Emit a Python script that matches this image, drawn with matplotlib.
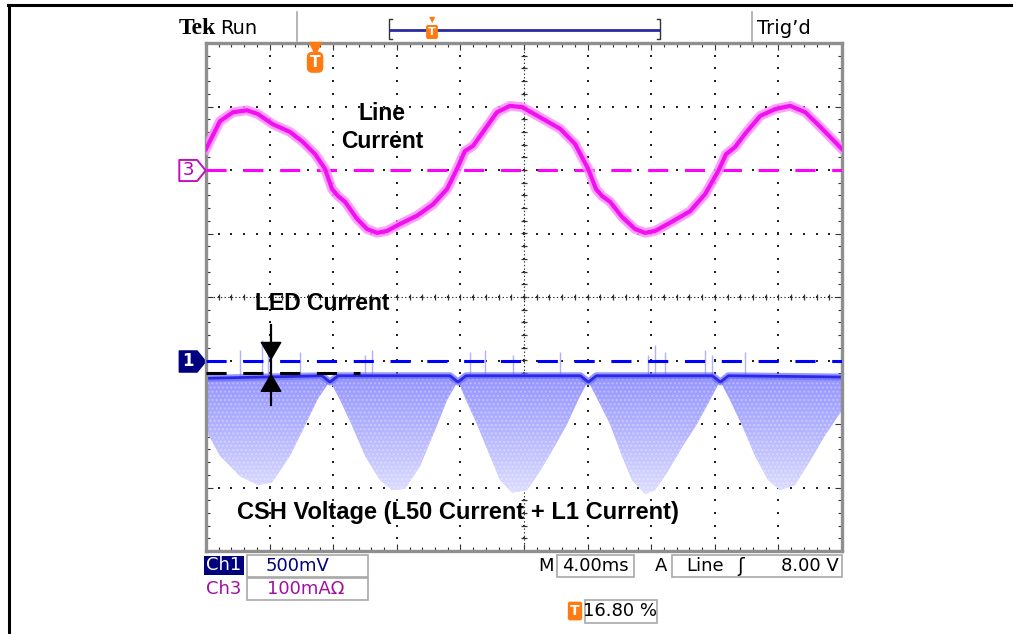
import numpy as np
import matplotlib
matplotlib.use("Agg")
import matplotlib.pyplot as plt
from matplotlib.path import Path
from matplotlib.colors import LinearSegmentedColormap
from matplotlib.lines import Line2D
from matplotlib.patches import Rectangle

plt.rcParams['lines.scale_dashes'] = False

W, H = 1013, 634

# ---- values ----
# time axis in ms (M 4.00ms / div, 10 div)
line_t = [0, 0.88, 1.70, 2.58, 3.27, 4.21, 5.28, 6.10, 6.86, 7.48, 7.93, 8.30, 8.74,
          9.50, 10.13, 10.76, 11.38, 12.20, 13.27, 14.28, 15.16, 15.79, 16.29, 16.80,
          17.42, 18.30, 19.12, 19.88, 21.01, 22.27, 23.21, 24.03, 24.53, 24.91, 25.41,
          26.17, 26.99, 27.61, 28.24, 29.19, 30.44, 31.39, 32.21, 32.71, 33.27, 33.90,
          34.85, 35.80, 36.74, 37.69, 38.63, 40.0]
# Ch3 line current, mA (100 mA/div)
line_ma = [33, 77, 91, 94, 88, 72, 60, 44, 25, 2, -30, -41, -50,
           -77, -93, -99, -96, -85, -72, -54, -30, 2, 30, 38,
           60, 91, 101, 99, 83, 65, 41, 2, -30, -41, -50,
           -74, -93, -99, -96, -83, -65, -38, -2, 25, 36, 57,
           85, 96, 101, 91, 68, 33]

# Ch1 CSH voltage, V (500 mV/div): dense upper band
csh_top_t = [0, 7.3, 7.8, 8.3, 15.35, 15.85, 16.35, 23.55, 24.05, 24.55,
             31.85, 32.35, 32.85, 40.0]
csh_top_v = [-0.14, -0.12, -0.17, -0.12, -0.12, -0.17, -0.12, -0.12, -0.17, -0.12,
             -0.12, -0.17, -0.12, -0.13]
# lower edge of the ripple cloud
csh_low_t = [0, 0.88, 2.14, 3.27, 4.15, 5.28, 6.23, 7.04, 7.8,
             8.43, 9.18, 10.0, 10.94, 11.70, 12.52, 13.46, 14.40, 15.16, 15.85,
             16.35, 17.04, 17.86, 18.49, 19.25, 20.19, 21.01, 21.95, 22.71, 23.40, 24.03,
             24.65, 25.41, 26.16, 26.79, 27.61, 28.24, 29.06, 30.0, 30.88, 31.70, 32.33,
             32.96, 33.71, 34.53, 35.35, 36.10, 37.04, 37.99, 38.93, 40.0]
csh_low_v = [-0.55, -0.75, -0.91, -0.98, -0.96, -0.75, -0.51, -0.30, -0.16,
             -0.31, -0.51, -0.75, -0.94, -1.02, -1.01, -0.83, -0.55, -0.31, -0.16,
             -0.31, -0.50, -0.75, -0.94, -1.04, -1.02, -0.87, -0.67, -0.50, -0.31, -0.16,
             -0.31, -0.50, -0.75, -0.94, -1.05, -1.02, -0.87, -0.67, -0.50, -0.31, -0.16,
             -0.31, -0.51, -0.75, -0.94, -1.02, -0.98, -0.79, -0.59, -0.39]
# short glitches above the band
spike_t = [2.14, 3.52, 3.90, 5.91, 10.0, 10.44, 16.61, 17.55, 19.31, 22.27,
           27.80, 28.24, 28.87, 31.39, 31.83, 33.90]
spike_v = [0.08, 0.16, 0.12, 0.07, 0.04, 0.08, 0.07, 0.08, 0.04, 0.07,
           0.04, 0.12, 0.07, 0.08, 0.04, 0.07]
band_v = -0.12
led_level_v = -0.10      # black dashed marker for LED current
led_arrow_t = 4.09

ch1_scale, ch3_scale = 0.5, 100    # per division
ch1_pos, ch3_pos = -1, 2           # ground markers, div from centre
trig_t = 6.86

MAG = '#ff00ff'
NAVY = '#00007f'
ORANGE = '#ff7a10'


def fx(x):
    return x / W


def fy(y):
    return 1 - y / H


fig = plt.figure(figsize=(W / 100, H / 100), dpi=100)
fig.patch.set_facecolor('white')

# outer frame (top and left only)
fig.add_artist(Line2D([fx(9), fx(9)], [0, fy(5)], color='black', lw=2.2, transform=fig.transFigure))
fig.add_artist(Line2D([fx(8), 1], [fy(5), fy(5)], color='black', lw=2.2, transform=fig.transFigure))

ax = fig.add_axes([fx(206), fy(551), 636 / W, 508 / H])
ax.set_xlim(0, 40)
ylo, yhi = (-4 - ch1_pos) * ch1_scale, (4 - ch1_pos) * ch1_scale
ax3 = ax.twinx()
ax3.set_ylim((-4 - ch3_pos) * ch3_scale, (4 - ch3_pos) * ch3_scale)
ax3.axis('off')

# ---- graticule ----
xmaj = np.arange(0, 40.01, 4)
ymaj = np.arange(ylo, yhi + 0.01, ch1_scale)
xmin = np.arange(0, 40.01, 0.8)
ymin = np.arange(ylo, yhi + 0.01, ch1_scale / 5)
xc, yc = 20, (ylo + yhi) / 2
for y in ymaj[1:-1]:
    ax.scatter(xmin, [y] * len(xmin), marker='s', s=1.5, color='#222222', lw=0, zorder=1)
for x in xmaj[1:-1]:
    ax.scatter([x] * len(ymin), ymin, marker='s', s=1.5, color='#222222', lw=0, zorder=1)
ax.axvline(xc, color='#333333', lw=0.8, dashes=(1, 1.6), zorder=1)
ax.axhline(yc, color='#333333', lw=0.8, dashes=(1, 1.6), zorder=1)
ax.plot([xc] * len(ymin), ymin, ls='none', marker='_', ms=5, mew=0.9, color='#333333', zorder=1)
ax.plot(xmin, [yc] * len(xmin), ls='none', marker='|', ms=5, mew=0.9, color='#333333', zorder=1)

ax.set_xticks(xmaj)
ax.set_xticks(xmin, minor=True)
ax.set_yticks(ymaj)
ax.set_yticks(ymin, minor=True)
ax.tick_params(which='both', direction='in', top=True, right=True, labelbottom=False,
               labelleft=False, color='#333333', width=0.8)
ax.tick_params(which='major', length=5)
ax.tick_params(which='minor', length=3)
for sp in ax.spines.values():
    sp.set_color('#8f8f8f')
    sp.set_linewidth(2.4)

# ---- Ch1 ripple cloud ----
poly_x = csh_top_t + csh_low_t[::-1]
poly_y = csh_top_v + csh_low_v[::-1]
cloud = ax.fill(poly_x, poly_y, color='#c8c8ff', lw=0, zorder=2)[0]
cmap = LinearSegmentedColormap.from_list('cloud', ['#9292ff', '#b8b8ff', '#e2e2ff'])
img = ax.imshow(np.linspace(0, 1, 256).reshape(-1, 1), extent=(0, 40, -1.1, -0.1),
                origin='upper', cmap=cmap, aspect='auto', zorder=2.1)
img.set_clip_path(cloud)
ax.fill(poly_x, poly_y, facecolor='none', edgecolor='white', hatch='....', lw=0,
        alpha=0.3, zorder=2.2)
ax.vlines(spike_t, band_v, spike_v, color='#b0b0ff', lw=1, zorder=2.3)
ax.plot(csh_top_t, csh_top_v, color='#6a6aff', lw=5, alpha=0.7, zorder=2.4)
ax.plot(csh_top_t, csh_top_v, color='#2a2ae6', lw=2, zorder=2.5)

# ground / level markers
ax.axhline(0, color='#0000ff', lw=2.2, dashes=(14.5, 12), zorder=3)
ax.plot([0, 9.7], [led_level_v] * 2, color='black', lw=2.2, dashes=(14.5, 12), zorder=3)

ax.set_ylim(ylo, yhi)
ax.set_xlim(0, 40)

# LED current arrows
ax.plot([led_arrow_t] * 2, [0.28, -0.35], color='black', lw=1.6, zorder=4)
ax.annotate('', xy=(led_arrow_t, 0), xytext=(led_arrow_t, 0.18),
            arrowprops=dict(arrowstyle='-|>,head_length=0.6,head_width=0.35', mutation_scale=20,
                            color='black', shrinkA=0, shrinkB=0), zorder=4)
ax.annotate('', xy=(led_arrow_t, led_level_v), xytext=(led_arrow_t, -0.28),
            arrowprops=dict(arrowstyle='-|>,head_length=0.6,head_width=0.35', mutation_scale=20,
                            color='black', shrinkA=0, shrinkB=0), zorder=4)

# ---- Ch3 line current ----
ax3.axhline(0, color=MAG, lw=2.2, dashes=(14.5, 12), zorder=3)
ax3.plot(line_t, line_ma, color='#ff90ff', lw=7, alpha=0.85, zorder=4, solid_joinstyle='round')
ax3.plot(line_t, line_ma, color='#f010f0', lw=3, zorder=5, solid_joinstyle='round')

# channel ground markers
pent = Path([(-1, -0.8), (0.35, -0.8), (1, 0), (0.35, 0.8), (-1, 0.8), (-1, -0.8)],
            [Path.MOVETO] + [Path.LINETO] * 4 + [Path.CLOSEPOLY])
mx = -14 / 636
ax.plot([mx], [0], transform=ax.get_yaxis_transform(), marker=pent, ms=19,
        mfc=NAVY, mec=NAVY, clip_on=False, ls='none')
ax.text(mx - 0.006, 0, '1', transform=ax.get_yaxis_transform(), color='white',
        fontsize=12, fontweight='bold', ha='center', va='center', clip_on=False)
ax3.plot([mx], [0], transform=ax3.get_yaxis_transform(), marker=pent, ms=19,
         mfc='white', mec='#c010c0', mew=1.4, clip_on=False, ls='none')
ax3.text(mx - 0.006, 0, '3', transform=ax3.get_yaxis_transform(), color='#b000b0',
         fontsize=13, ha='center', va='center', clip_on=False)

# trigger position marker under the top edge
ax.plot([trig_t], [0.99], transform=ax.get_xaxis_transform(), marker='v', ms=8,
        color=ORANGE, clip_on=False, ls='none', zorder=6)
ax.text(trig_t, 0.962, 'T', transform=ax.get_xaxis_transform(), color='white',
        fontsize=11, fontweight='bold', ha='center', va='center', zorder=6,
        bbox=dict(boxstyle='round,pad=0.15,rounding_size=0.3', fc=ORANGE, ec=ORANGE))

# ---- annotation labels ----
lab = dict(family='Liberation Sans', fontweight='bold', color='black', ha='center', va='center')
fig.text(fx(382), fy(113), 'Line', fontsize=16.5, **lab)
fig.text(fx(382), fy(142), 'Current', fontsize=16.5, **lab)
fig.text(fx(322), fy(303), 'LED Current', fontsize=16.5, **lab)
fig.text(fx(458), fy(512), 'CSH Voltage (L50 Current + L1 Current)', fontsize=17, **lab)

# ---- header ----
fig.text(fx(179), fy(28), 'Tek', family='Liberation Serif', fontweight='bold', fontsize=17,
         ha='left', va='center')
fig.text(fx(220), fy(28), 'Run', family='DejaVu Sans', fontsize=14, ha='left', va='center')
fig.text(fx(757), fy(28), "Trig\u2019d", family='DejaVu Sans', fontsize=14, ha='left', va='center')
for xs in (297, 752):
    fig.add_artist(Line2D([fx(xs)] * 2, [fy(12), fy(41)], color='#a8a8a8', lw=1.2,
                          transform=fig.transFigure))
fig.add_artist(Line2D([fx(392), fx(389), fx(389), fx(392)], [fy(19), fy(19), fy(39), fy(39)],
                      color='#333333', lw=1, transform=fig.transFigure))
fig.add_artist(Line2D([fx(657), fx(660), fx(660), fx(657)], [fy(19), fy(19), fy(39), fy(39)],
                      color='#333333', lw=1, transform=fig.transFigure))
fig.add_artist(Line2D([fx(390), fx(659)], [fy(30), fy(30)], color='#2a2aa0', lw=2,
                      transform=fig.transFigure))
fig.text(fx(432), fy(32), 'T', color='white', fontsize=8, fontweight='bold', ha='center',
         va='center', bbox=dict(boxstyle='round,pad=0.12', fc=ORANGE, ec=ORANGE))
fig.text(fx(432), fy(20), '\u25bc', color=ORANGE, fontsize=6, ha='center', va='center')

# ---- bottom readouts ----
ro = dict(family='DejaVu Sans', fontsize=13, va='center')


def box(x0, y0, x1, y1, **kw):
    fig.add_artist(Rectangle((fx(x0), fy(y1)), (x1 - x0) / W, (y1 - y0) / H,
                             transform=fig.transFigure, **kw))


box(204, 556, 244, 575, fc=NAVY, ec=NAVY, lw=0)
fig.text(fx(224), fy(565.5), 'Ch1', color='white', ha='center', **ro)
box(247, 555, 368, 577, fc='white', ec='#a8a8a8', lw=1.2)
fig.text(fx(297), fy(566), '500mV', color=NAVY, ha='center', **ro)
fig.text(fx(224), fy(589), 'Ch3', color='#a010a0', ha='center', **ro)
box(247, 578, 368, 600, fc='white', ec='#a8a8a8', lw=1.2)
fig.text(fx(306), fy(589), '100mA\u03a9', color='#a010a0', ha='center', **ro)

fig.text(fx(546), fy(566), 'M', color='black', ha='center', **ro)
box(557, 555, 634, 577, fc='white', ec='#a8a8a8', lw=1.2)
fig.text(fx(595), fy(566), '4.00ms', color='black', ha='center', **ro)
fig.text(fx(661), fy(566), 'A', color='black', ha='center', **ro)
box(672, 555, 842, 577, fc='white', ec='#a8a8a8', lw=1.2)
fig.text(fx(705), fy(566), 'Line', color='black', ha='center', **ro)
fig.text(fx(741), fy(566), '\u0283', color='black', ha='center',
         family='DejaVu Sans', fontsize=14, va='center')
fig.text(fx(839), fy(566), '8.00 V', color='black', ha='right', **ro)

fig.text(fx(575), fy(611), 'T', color='white', fontsize=10, fontweight='bold', ha='center',
         va='center', bbox=dict(boxstyle='round,pad=0.12', fc=ORANGE, ec=ORANGE))
box(585, 600, 657, 623, fc='white', ec='#a8a8a8', lw=1.2)
fig.text(fx(620), fy(611.5), '16.80 %', color='black', ha='center', **ro)

fig.savefig('out.png', dpi=100, facecolor='white')
